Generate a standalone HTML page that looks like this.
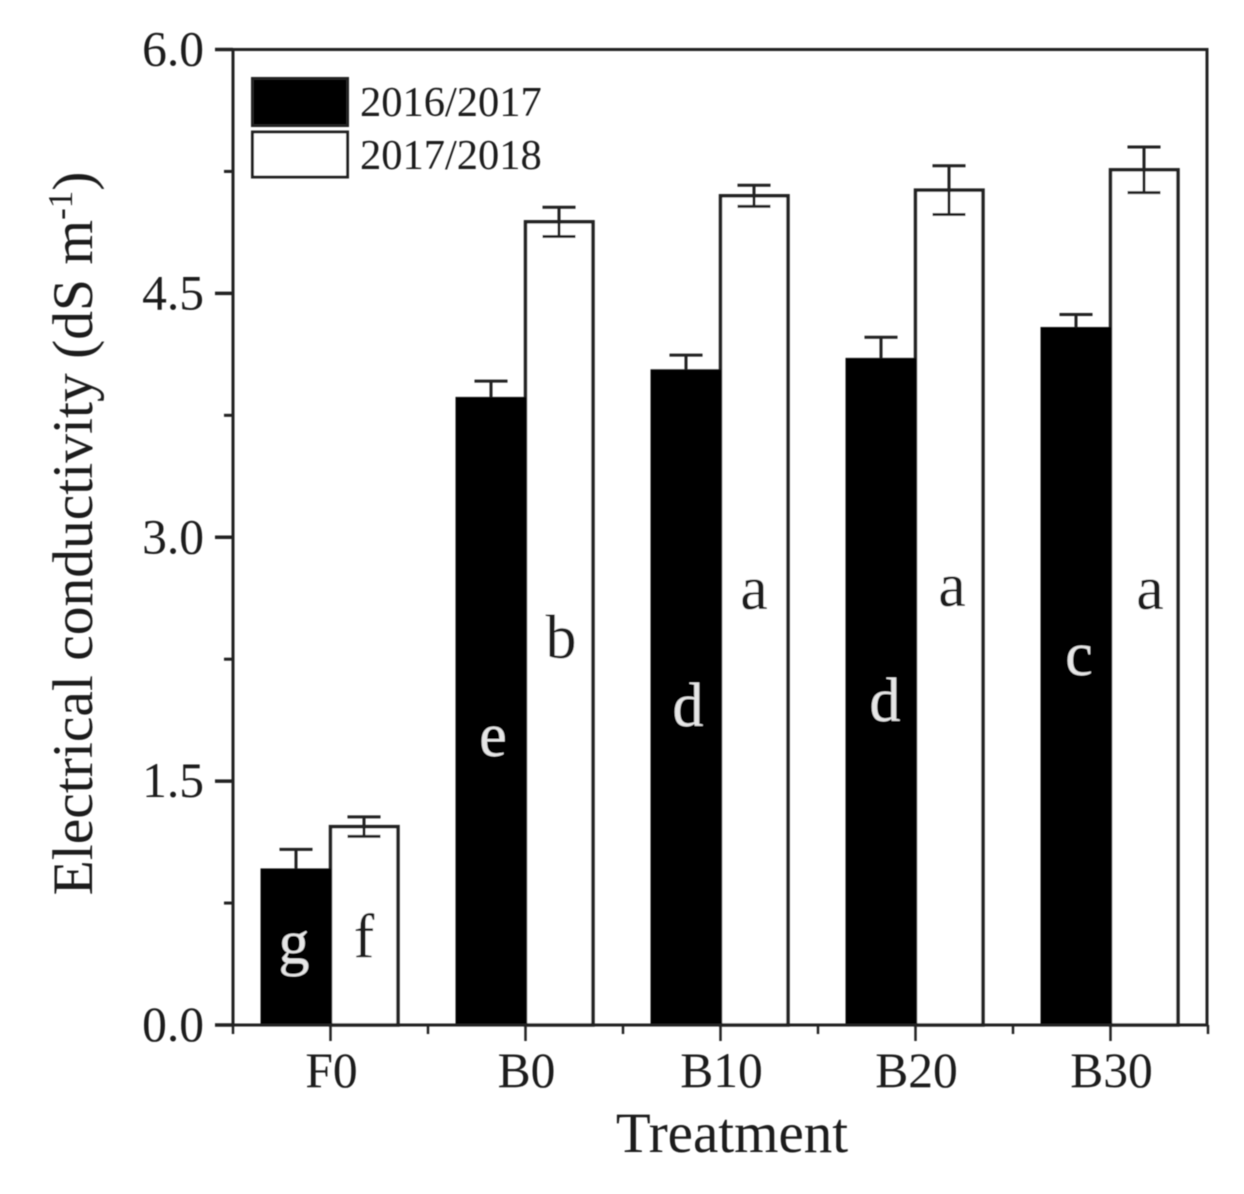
<!DOCTYPE html>
<html>
<head>
<meta charset="utf-8">
<title>Electrical conductivity by treatment</title>
<style>
html,body{margin:0;padding:0;background:#fff;}
svg{display:block;}
text{font-family:"Liberation Serif",serif;fill:#1c1c1c;}
</style>
</head>
<body>
<svg id="chart" xmlns="http://www.w3.org/2000/svg" width="1244" height="1194" viewBox="0 0 1244 1194">
  <defs><filter id="soft" x="-2%" y="-2%" width="104%" height="104%"><feGaussianBlur stdDeviation="0.6"/></filter></defs>
  <rect width="1244" height="1194" fill="#fff"/>
  <g id="root" filter="url(#soft)">
    <g id="bars"></g>
    <g id="axes"></g>
    <g id="legend">
      <rect x="252.5" y="78.5" width="95" height="47" fill="#000" stroke="#222" stroke-width="3"/>
      <rect x="252.5" y="132" width="95" height="45" fill="#fff" stroke="#222" stroke-width="3"/>
      <text x="360" y="116" font-size="42.5">2016/2017</text>
      <text x="360" y="169" font-size="42.5">2017/2018</text>
    </g>
    <text x="732" y="1152" font-size="57" text-anchor="middle">Treatment</text>
    <text transform="translate(92,533.5) rotate(-90)" font-size="57.5" text-anchor="middle">Electrical conductivity (dS m<tspan dy="-20" font-size="35">-1</tspan><tspan dy="20">)</tspan></text>
  </g>
</svg>
<script>
var categories = ['F0', 'B0', 'B10', 'B20', 'B30'];
var series2016 = [0.96, 3.86, 4.03, 4.10, 4.29];
var series2017 = [1.22, 4.94, 5.10, 5.135, 5.26];
var errors2016 = [0.12, 0.10, 0.09, 0.13, 0.08];
var errors2017 = [0.06, 0.09, 0.065, 0.15, 0.14];
var letters2016 = ['g', 'e', 'd', 'd', 'c'];
var letters2017 = ['f', 'b', 'a', 'a', 'a'];
var letterValues2016 = [0.38, 1.654, 1.839, 1.870, 2.153];
var letterValues2017 = [0.418, 2.257, 2.558, 2.577, 2.558];
var yTickLabels = ['0.0', '1.5', '3.0', '4.5', '6.0'];
var yTickValues = [0, 1.5, 3, 4.5, 6];
var yMinorValues = [0.75, 2.25, 3.75, 5.25];

var NS = 'http://www.w3.org/2000/svg';
var PLOT = {left: 233, right: 1207, top: 49.5, bottom: 1025, yMax: 6, firstX: 330.5, stepX: 195};
var BAR_W = 69;
var LETTER_NUDGE_A = [-2, 2, 2, 4, 3];
var LETTER_NUDGE_B = [-1, 1, -1, 2, 5];

function yScale(v) {
  return PLOT.bottom - (v / PLOT.yMax) * (PLOT.bottom - PLOT.top);
}
function xScale(i) {
  return PLOT.firstX + i * PLOT.stepX;
}
function make(tag, attrs, parent, text) {
  var el = document.createElementNS(NS, tag);
  for (var k in attrs) el.setAttribute(k, attrs[k]);
  if (text !== undefined) el.textContent = text;
  parent.appendChild(el);
  return el;
}
var barsG = document.getElementById('bars');
var axesG = document.getElementById('axes');

function drawError(cx, value, err, both, parent, name) {
  var g = make('g', {}, parent);
  
  
  var yTop = yScale(value + err);
  var yLow = yScale(both ? value - err : value);
  var stroke = {stroke: '#222', 'stroke-width': 3};
  make('line', Object.assign({x1: cx, x2: cx, y1: yTop, y2: yLow}, stroke), g);
  make('line', Object.assign({x1: cx - 16.5, x2: cx + 16.5, y1: yTop, y2: yTop}, stroke), g);
  if (both) make('line', Object.assign({x1: cx - 16.5, x2: cx + 16.5, y1: yLow, y2: yLow}, stroke), g);
}

categories.forEach(function (cat, i) {
  var x = xScale(i);
  var yA = yScale(series2016[i]);
  var yB = yScale(series2017[i]);

  var barB = make('rect', {x: x, y: yB, width: BAR_W - 1.5, height: PLOT.bottom - yB, fill: '#fff', stroke: '#222', 'stroke-width': 3.5}, barsG);
  
  
  drawError(x + BAR_W / 2 - 1, series2017[i], errors2017[i], true, barsG, 'error-bar-2017-2018-' + cat.toLowerCase());

  var barA = make('rect', {x: x - BAR_W - 0.5, y: yA, width: BAR_W + 1, height: PLOT.bottom - yA, fill: '#000', stroke: '#111', 'stroke-width': 1}, barsG);
  
  
  drawError(x - BAR_W / 2, series2016[i], errors2016[i], false, barsG, 'error-bar-2016-2017-' + cat.toLowerCase());

  var la = make('text', {x: x - BAR_W / 2 + LETTER_NUDGE_A[i], y: yScale(letterValues2016[i]), 'font-size': 62, 'text-anchor': 'middle', style: 'fill:#e6e6e6'}, barsG, letters2016[i]);
  
  
  var lb = make('text', {x: x + BAR_W / 2 + LETTER_NUDGE_B[i], y: yScale(letterValues2017[i]), 'font-size': 62, 'text-anchor': 'middle'}, barsG, letters2017[i]);
  
  

  var tick = make('line', {x1: x, x2: x, y1: PLOT.bottom, y2: PLOT.bottom + 16, stroke: '#222', 'stroke-width': 2.5}, axesG);
  
  
  var lbl = make('text', {x: x + 1, y: 1087, 'font-size': 49.5, 'text-anchor': 'middle'}, axesG, cat);
  
  

  var mx = x + PLOT.stepX / 2;
  var minor = make('line', {x1: mx, x2: mx, y1: PLOT.bottom, y2: PLOT.bottom + 9, stroke: '#222', 'stroke-width': 2.5}, axesG);
  
  
});

var frame = make('rect', {x: PLOT.left, y: PLOT.top, width: PLOT.right - PLOT.left, height: PLOT.bottom - PLOT.top, fill: 'none', stroke: '#222', 'stroke-width': 3}, axesG);



var leftCorner = make('line', {x1: PLOT.left, x2: PLOT.left, y1: PLOT.bottom, y2: PLOT.bottom + 9, stroke: '#222', 'stroke-width': 2.5}, axesG);



yTickValues.forEach(function (v, i) {
  var y = yScale(v);
  var t = make('line', {x1: PLOT.left - 18, x2: PLOT.left, y1: y, y2: y, stroke: '#222', 'stroke-width': 3.5}, axesG);
  
  
  var l = make('text', {x: 204, y: y + 16, 'font-size': 49.5, 'text-anchor': 'end'}, axesG, yTickLabels[i]);
  
  
});
yMinorValues.forEach(function (v) {
  var y = yScale(v);
  var t = make('line', {x1: PLOT.left - 9, x2: PLOT.left, y1: y, y2: y, stroke: '#222', 'stroke-width': 3}, axesG);
  
  
});
</script>
</body>
</html>
